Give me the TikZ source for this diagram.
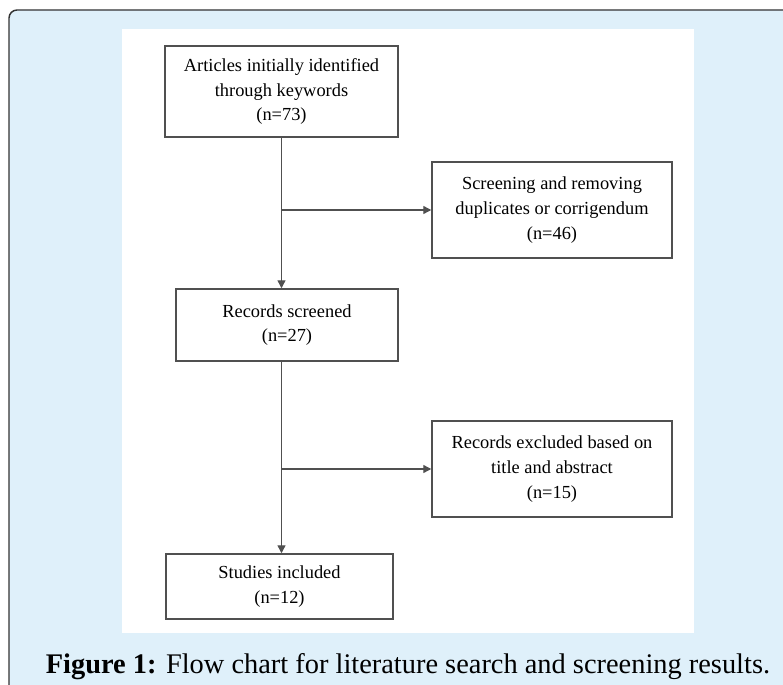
\documentclass[tikz,border=0pt]{standalone}
\usepackage{fontspec}
\setmainfont{Liberation Serif}
\usetikzlibrary{arrows.meta}
\definecolor{panelblue}{HTML}{DFF0FA}
\definecolor{boxgray}{HTML}{505050}
\begin{document}
\begin{tikzpicture}[x=0.75pt,y=-0.75pt,
  stagebox/.style={draw=boxgray,line width=1.1pt,fill=white,align=center,
    font=\fontsize{13.8}{18.5}\selectfont,inner sep=0pt},
  flow/.style={draw=boxgray,line width=1pt,-{Triangle[length=6pt,width=6pt]}}]
\useasboundingbox (0,0) rectangle (783,685);
% frame and white panel
\draw[fill=panelblue,draw=black!80,line width=1.1pt,rounded corners=6pt] (9,10) rectangle (810,710);
\fill[white] (122,29) rectangle (694,633);
% boxes
\node[stagebox,minimum width=174.75pt,minimum height=68.25pt] (articles) at (281.5,91.5)
  {Articles initially identified\\through keywords\\(n=73)};
\node[stagebox,minimum width=180pt,minimum height=72pt] (duplicates) at (552,210)
  {Screening and removing\\duplicates or corrigendum\\(n=46)};
\node[stagebox,minimum width=166.5pt,minimum height=54pt] (screened) at (287,325)
  {Records screened\\(n=27)};
\node[stagebox,minimum width=180pt,minimum height=72pt] (excluded) at (552,469)
  {Records excluded based on\\title and abstract\\(n=15)};
\node[stagebox,minimum width=170.25pt,minimum height=48.75pt] (included) at (279.5,586.5)
  {Studies included\\(n=12)};
% connectors
\coordinate (split1) at (articles.south |- duplicates.west);
\coordinate (split2) at (articles.south |- excluded.west);
\draw[flow] (articles.south) -- (articles.south |- screened.north);
\draw[flow] (split1) -- (duplicates.west);
\draw[flow] (articles.south |- screened.south) -- (articles.south |- included.north);
\draw[flow] (split2) -- (excluded.west);
% caption
\node[font=\fontsize{21.3}{24}\selectfont,anchor=base] (caption) at (408,673)
  {\textbf{Figure 1:} Flow chart for literature search and screening results.};
\end{tikzpicture}
\end{document}
